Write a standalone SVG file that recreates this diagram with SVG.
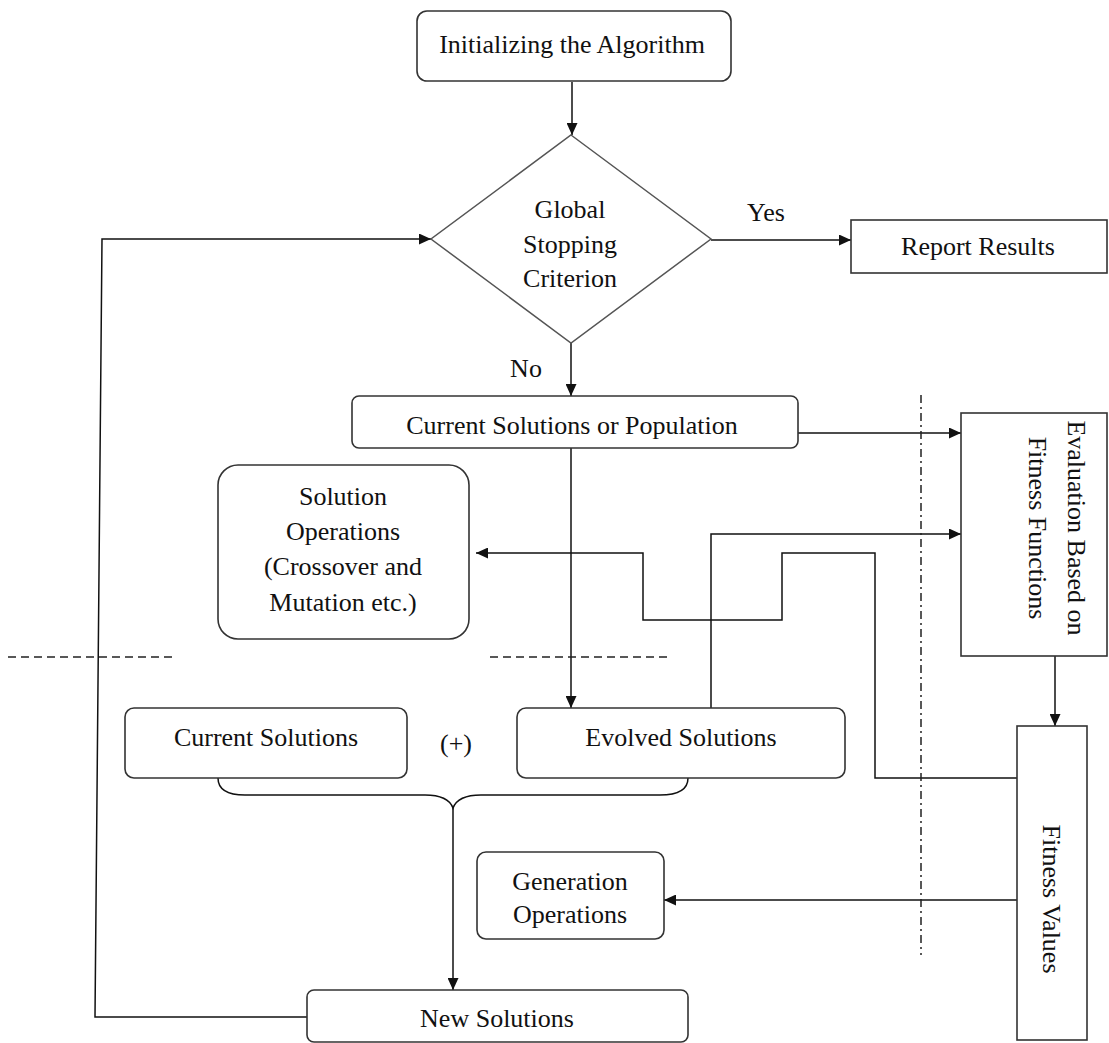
<svg xmlns="http://www.w3.org/2000/svg" width="1109" height="1043" viewBox="0 0 1109 1043">
<defs>
<style>
.box{fill:#fff;stroke:#333;stroke-width:1.6}
.dia{fill:#fff;stroke:#555;stroke-width:1.5}
.t{font-family:"Liberation Serif","Times New Roman",serif;font-size:26px;fill:#111;text-anchor:middle}
.ln{fill:none;stroke:#111;stroke-width:1.5}
.dash{fill:none;stroke:#222;stroke-width:1.5;stroke-dasharray:8 5}
.dd{fill:none;stroke:#222;stroke-width:1.5;stroke-dasharray:8 4 2 4}
</style>
<marker id="ah" markerUnits="userSpaceOnUse" markerWidth="12" markerHeight="11" refX="12" refY="5.5" orient="auto">
<path d="M0,0 L12,5.5 L0,11 z" fill="#111"/>
</marker>
</defs>
<rect width="1109" height="1043" fill="#fff"/>

<g id="connectors">
<line class="ln" x1="572" y1="82" x2="572" y2="135" marker-end="url(#ah)"/>
<line class="ln" x1="711" y1="240" x2="851" y2="240" marker-end="url(#ah)"/>
<line class="ln" x1="571" y1="343" x2="571" y2="396" marker-end="url(#ah)"/>
<line class="ln" x1="798" y1="433" x2="961" y2="433" marker-end="url(#ah)"/>
<line class="ln" x1="571" y1="448" x2="571" y2="708" marker-end="url(#ah)"/>
<polyline class="ln" points="711,708 711,534 961,534" marker-end="url(#ah)"/>
<polyline class="ln" points="1017,778 875,778 875,553 782,553 782,620 643,620 643,553 476,553" marker-end="url(#ah)"/>
<line class="ln" x1="1055" y1="656" x2="1055" y2="726" marker-end="url(#ah)"/>
<line class="ln" x1="1017" y1="900" x2="664" y2="900" marker-end="url(#ah)"/>
<line class="ln" x1="453" y1="808" x2="453" y2="990" marker-end="url(#ah)"/>
<polyline class="ln" points="307,1017 95,1017 102,239 431,239" marker-end="url(#ah)"/>
<path class="ln" d="M218,778 C218,790 228,795 245,795 L425,795 C441,795 450,800 453,808 C456,800 465,795 481,795 L660,795 C677,795 688,790 688,778"/>
<line class="dash" x1="8" y1="657" x2="173" y2="657"/>
<line class="dash" x1="490" y1="657" x2="667" y2="657"/>
<line class="dd" x1="921" y1="395" x2="921" y2="955"/>
</g>

<g id="init">
<rect class="box" x="417" y="11" width="314" height="70" rx="10"/>
<text class="t" x="572" y="53">Initializing the Algorithm</text>
</g>

<g id="decision">
<polygon class="dia" points="571,135 711,239 571,343 431,239"/>
<text class="t" x="570" y="218">Global</text>
<text class="t" x="570" y="253">Stopping</text>
<text class="t" x="570" y="287">Criterion</text>
</g>

<g id="label-yes"><text class="t" x="766" y="221">Yes</text></g>
<g id="label-no"><text class="t" x="526" y="377">No</text></g>

<g id="report">
<rect class="box" x="851" y="220" width="256" height="53"/>
<text class="t" x="978" y="255">Report Results</text>
</g>

<g id="current-pop">
<rect class="box" x="352" y="396" width="446" height="52" rx="7"/>
<text class="t" x="572" y="434">Current Solutions or Population</text>
</g>

<g id="evaluation">
<rect class="box" x="961" y="413" width="146" height="243"/>
<text class="t" transform="translate(1068,528) rotate(90)">Evaluation Based on</text>
<text class="t" transform="translate(1029,528) rotate(90)">Fitness Functions</text>
</g>

<g id="solution-ops">
<rect class="box" x="218" y="465" width="251" height="174" rx="20"/>
<text class="t" x="343" y="505">Solution</text>
<text class="t" x="343" y="540">Operations</text>
<text class="t" x="343" y="575">(Crossover and</text>
<text class="t" x="343" y="611">Mutation etc.)</text>
</g>

<g id="current-solutions">
<rect class="box" x="125" y="708" width="282" height="70" rx="9"/>
<text class="t" x="266" y="746">Current Solutions</text>
</g>

<g id="plus"><text class="t" x="456" y="752">(+)</text></g>

<g id="evolved-solutions">
<rect class="box" x="517" y="708" width="328" height="70" rx="9"/>
<text class="t" x="681" y="746">Evolved Solutions</text>
</g>

<g id="fitness-values">
<rect class="box" x="1017" y="726" width="70" height="314"/>
<text class="t" transform="translate(1043,899) rotate(90)">Fitness Values</text>
</g>

<g id="generation-ops">
<rect class="box" x="477" y="852" width="187" height="87" rx="9"/>
<text class="t" x="570" y="890">Generation</text>
<text class="t" x="570" y="923">Operations</text>
</g>

<g id="new-solutions">
<rect class="box" x="307" y="990" width="381" height="52" rx="7"/>
<text class="t" x="497" y="1027">New Solutions</text>
</g>
</svg>
